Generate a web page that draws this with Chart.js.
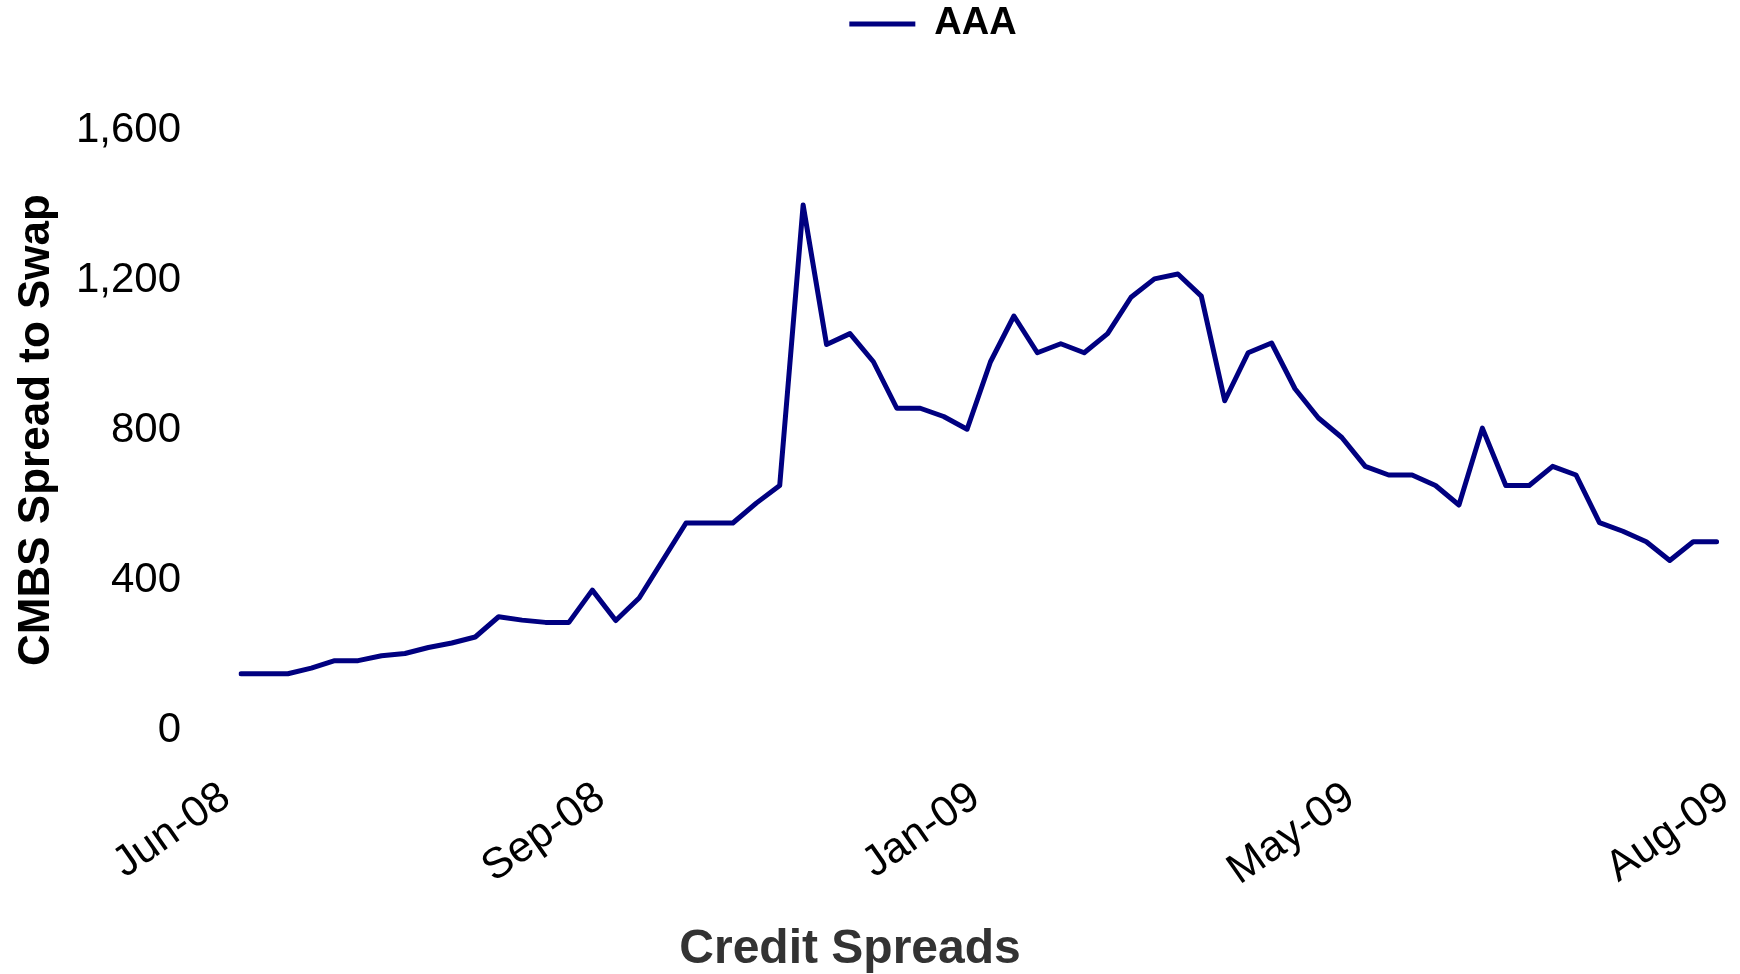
<!DOCTYPE html>
<html>
<head>
<meta charset="utf-8">
<title>Credit Spreads</title>
<script src="https://cdn.jsdelivr.net/npm/chart.js@4/dist/chart.umd.min.js"></script>
<style>
  html, body { margin: 0; padding: 0; background: #fff; }
  canvas { display: block; }
</style>
</head>
<body>
<canvas id="chart" width="1740" height="974"></canvas>
<script>
// weekly observations, Jun-08 .. Aug-09 (the last slot only carries the axis label)
const WEEKS = [
  "Jun-08", "Jun-08", "Jun-08", "Jun-08",
  "Jul-08", "Jul-08", "Jul-08", "Jul-08",
  "Aug-08", "Aug-08", "Aug-08", "Aug-08", "Aug-08",
  "Sep-08", "Sep-08", "Sep-08", "Sep-08",
  "Oct-08", "Oct-08", "Oct-08", "Oct-08", "Oct-08",
  "Nov-08", "Nov-08", "Nov-08", "Nov-08",
  "Dec-08", "Dec-08", "Dec-08", "Dec-08",
  "Jan-09", "Jan-09", "Jan-09", "Jan-09", "Jan-09",
  "Feb-09", "Feb-09", "Feb-09", "Feb-09",
  "Mar-09", "Mar-09", "Mar-09", "Mar-09",
  "Apr-09", "Apr-09", "Apr-09", "Apr-09",
  "May-09", "May-09", "May-09", "May-09", "May-09",
  "Jun-09", "Jun-09", "Jun-09", "Jun-09",
  "Jul-09", "Jul-09", "Jul-09", "Jul-09", "Jul-09",
  "Aug-09", "Aug-09", "Aug-09", "Aug-09",
];

// CMBS AAA spread to swap (bp)
const AAA = [
  150, 150, 150, 165, 185, 185, 198, 204, 220, 232,
  248, 302, 293, 287, 287, 373, 292, 352, 452, 552,
  552, 552, 605, 652, 1400, 1028, 1057, 982, 858, 858,
  836, 802, 982, 1104, 1006, 1030, 1006, 1057, 1154, 1203,
  1216, 1157, 878, 1006, 1032, 910, 832, 780, 703, 680,
  680, 652, 600, 805, 652, 652, 703, 680, 553, 530,
  502, 452, 502, 502,
];

const TICK_EVERY = 16;
const Y_MIN = 0;
const Y_MAX = 1600;
const Y_STEP = 400;

const FONT = "'Liberation Sans', Arial, Helvetica, sans-serif";
const NAVY = "#000080";

const Y_AXIS_WIDTH = 241;
const X_AXIS_HEIGHT = 188;
const LEGEND_HEIGHT = 130;
const LEGEND_SHIFT = 63;
const TITLE_SHIFT = -20;

Chart.defaults.font.family = FONT;
Chart.defaults.color = "#000";

// keeps legend + bottom title where the original had them
const placement = {
  id: "placement",
  beforeInit(chart) {
    const fit = chart.legend.fit;
    chart.legend.fit = function () {
      fit.call(this);
      this.height = LEGEND_HEIGHT;
    };
  },
  afterLayout(chart) {
    chart.legend.left += LEGEND_SHIFT;
    chart.legend.right += LEGEND_SHIFT;
    if (chart.titleBlock) {
      chart.titleBlock.left += TITLE_SHIFT;
      chart.titleBlock.right += TITLE_SHIFT;
    }
  },
};

new Chart(document.getElementById("chart"), {
  type: "line",
  data: {
    labels: WEEKS,
    datasets: [{
      label: "AAA",
      data: AAA,
      borderColor: NAVY,
      backgroundColor: NAVY,
      borderWidth: 5,
      borderCapStyle: "round",
      borderJoinStyle: "round",
      pointRadius: 0,
      tension: 0,
      fill: false,
    }],
  },
  options: {
    responsive: false,
    animation: false,
    layout: { padding: 0 },
    plugins: {
      legend: {
        position: "top",
        labels: {
          usePointStyle: true,
          pointStyle: "line",
          pointStyleWidth: 66,
          padding: 5,
          color: "#000",
          font: { size: 38, weight: "bold" },
        },
      },
      title: {
        display: true,
        text: "Credit Spreads",
        position: "bottom",
        color: "#333",
        font: { size: 48, weight: "bold", lineHeight: 1 },
        padding: { top: 8, bottom: 0 },
      },
      tooltip: { enabled: false },
    },
    scales: {
      x: {
        offset: false,
        grid: { display: false, drawTicks: false },
        border: { display: false },
        ticks: {
          autoSkip: false,
          minRotation: 35,
          maxRotation: 35,
          padding: 42,
          labelOffset: -15,
          color: "#000",
          font: { size: 43 },
          callback(value, index) {
            return index % TICK_EVERY === 0 ? this.getLabelForValue(value) : "";
          },
        },
        afterFit(scale) {
          scale.height = X_AXIS_HEIGHT;
          scale.paddingLeft = 0;
          scale.paddingRight = 0;
        },
      },
      y: {
        min: Y_MIN,
        max: Y_MAX,
        grid: { display: false, drawTicks: false },
        border: { display: false },
        ticks: {
          stepSize: Y_STEP,
          padding: 60,
          color: "#000",
          font: { size: 42 },
        },
        title: {
          display: true,
          text: "CMBS Spread to Swap",
          color: "#000",
          font: { size: 44, weight: "bold" },
          padding: { top: 10, bottom: 0 },
        },
        afterFit(scale) {
          scale.width = Y_AXIS_WIDTH;
        },
      },
    },
  },
  plugins: [placement],
});
</script>
</body>
</html>
